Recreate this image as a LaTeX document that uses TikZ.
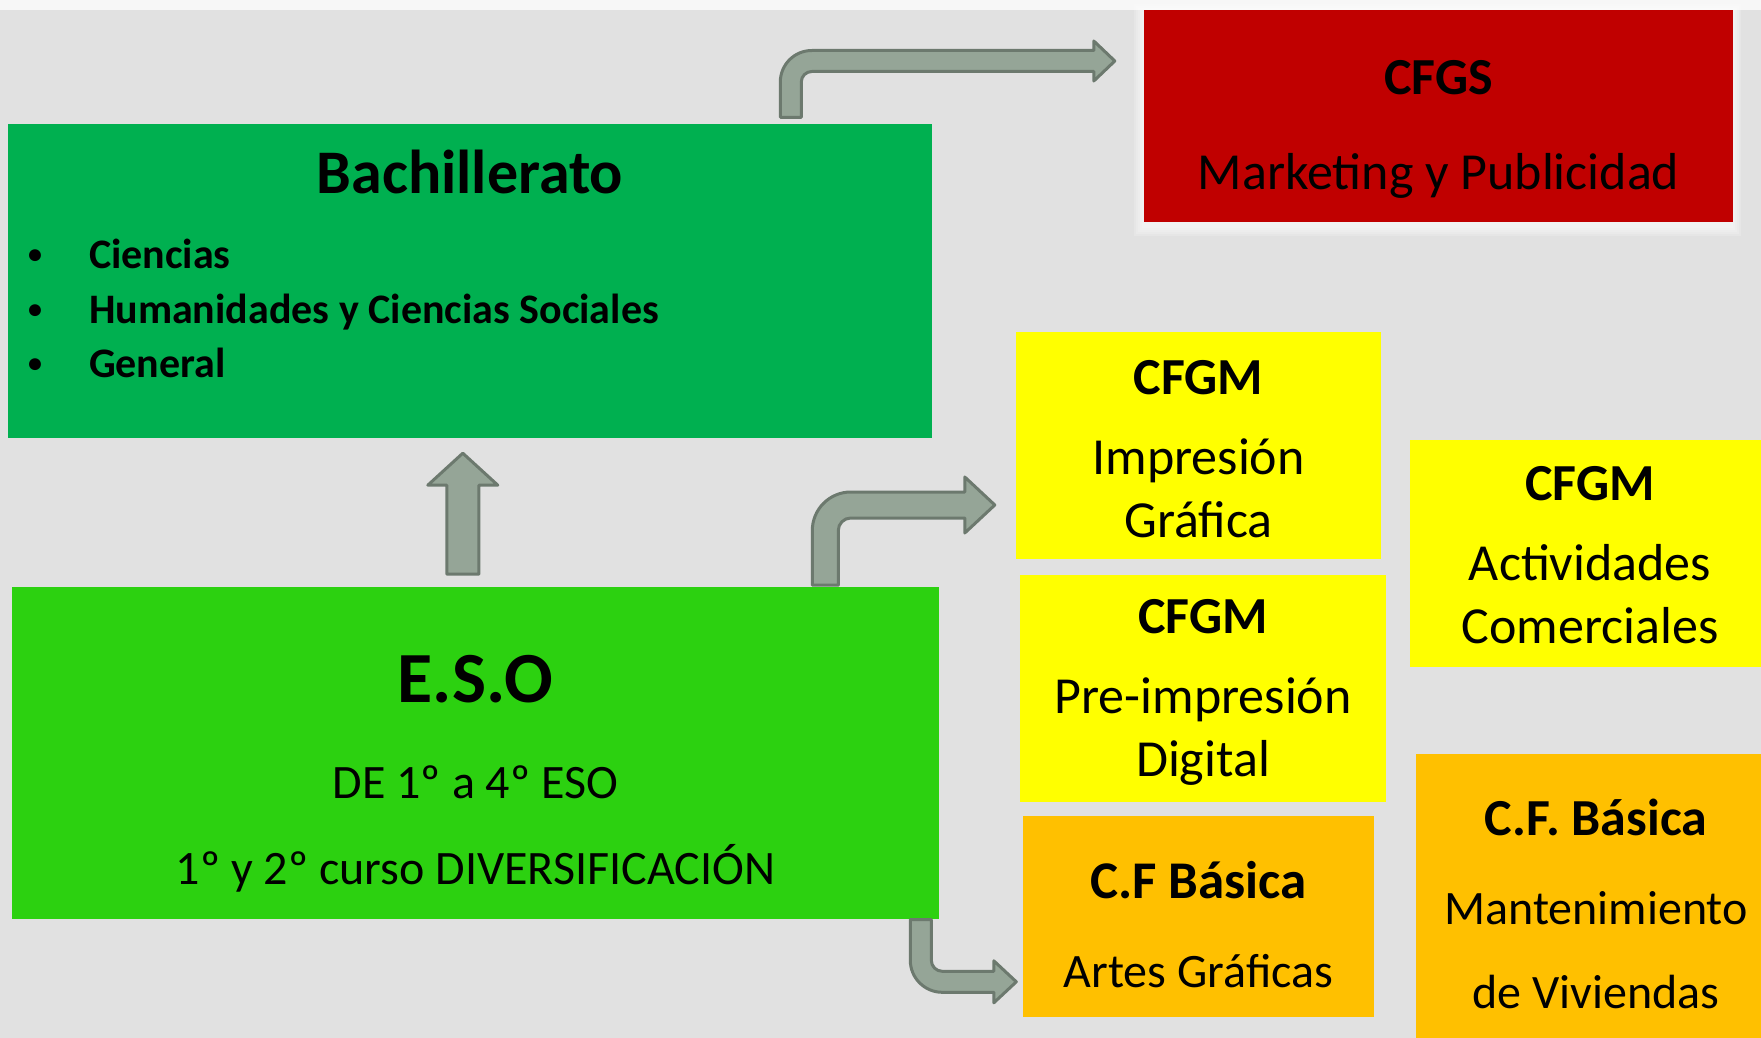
\documentclass[tikz,border=0pt]{standalone}
\usepackage{fontspec}
\setmainfont{Carlito}
\usepackage{xcolor}
\usetikzlibrary{positioning, calc}

\definecolor{bgGray}{RGB}{225,225,225}
\definecolor{topStrip}{RGB}{247,247,247}
\definecolor{bachGreen}{RGB}{0,176,80}
\definecolor{esoGreen}{RGB}{44,209,16}
\definecolor{cfgsRed}{RGB}{192,0,0}
\definecolor{cfgmYellow}{RGB}{255,255,0}
\definecolor{basicaOrange}{RGB}{255,192,0}
\definecolor{arrowFill}{RGB}{149,165,151}
\definecolor{arrowLine}{RGB}{108,121,110}

\pgfdeclarelayer{backdrop}
\pgfdeclarelayer{glow}
\pgfsetlayers{backdrop,glow,main}

% small list bullet
\newcommand{\listbullet}{\llap{\makebox[0pt]{\raisebox{5pt}{\fontsize{28}{28}\selectfont •}}\hspace{54pt}}}

% straight block arrow pointing up: tail, tip, shaft half width, head half width, head length
\newcommand{\uparrowblock}[5]{%
  \filldraw[blockarrow] let \p1=#1, \p2=#2 in
    (\x1-#3,\y1) -- (\x1-#3,\y2-#5) -- (\x1-#4,\y2-#5) -- (\x1,\y2)
    -- (\x1+#4,\y2-#5) -- (\x1+#3,\y2-#5) -- (\x1+#3,\y1) -- cycle;}

% bent block arrow: tail, tip, shaft half width, head half width, head length, corner radius, 1 = up then right / -1 = down then right
\newcommand{\bentblock}[7]{%
  \filldraw[blockarrow] let \p1=#1, \p2=#2 in
    (\x1-#3,\y1) -- (\x1-#3,{\y2+(#7)*(#3-#6)})
    arc[start angle=180, end angle={180-90*(#7)}, radius=#6]
    -- (\x2-#5,{\y2+(#7)*#3}) -- (\x2-#5,{\y2+(#7)*#4}) -- (\x2,\y2)
    -- (\x2-#5,{\y2-(#7)*#4}) -- (\x2-#5,{\y2-(#7)*#3})
    -- ({\x1+#6-#3},{\y2-(#7)*#3})
    arc[start angle={180-90*(#7)}, end angle=180, radius={#6-2*#3}]
    -- (\x1+#3,\y1) -- cycle;}

\begin{document}
\begin{tikzpicture}[
    x=1pt, y=-1pt,
    panel/.style={rectangle, inner sep=0pt, align=center},
    bachbox/.style={panel, fill=bachGreen, minimum width=924pt, minimum height=314pt},
    esobox/.style={panel, fill=esoGreen, minimum width=927pt, minimum height=332pt},
    cfgsbox/.style={panel, fill=cfgsRed, minimum width=589pt, minimum height=212pt},
    cfgmbox/.style={panel, fill=cfgmYellow, minimum height=227pt, font=\fontsize{52}{63}\selectfont},
    basicabox/.style={panel, fill=basicaOrange, font=\fontsize{48}{89}\selectfont},
    itemtext/.style={font=\fontsize{42}{50}\selectfont\bfseries, inner sep=0pt, anchor=base west},
    blockarrow/.style={draw=arrowLine, fill=arrowFill, line width=3pt, line join=round},
  ]

  % slide background
  \useasboundingbox (0,0) rectangle (1761,1038);
  \begin{pgfonlayer}{backdrop}
    \fill[bgGray] (0,0) rectangle (1761,1038);
    \fill[topStrip] (0,0) rectangle (1761,10);
  \end{pgfonlayer}

  % left column
  \node[bachbox] (bach) at (470,281) {};
  \node[esobox, below=149pt of bach, xshift=5.5pt] (eso) {};

  \node[font=\fontsize{62}{74}\selectfont\bfseries, anchor=base] (bachtitle)
    at ($(bach.north)+(0,-70pt)$) {Bachillerato};
  \node[itemtext] (itemA) at ($(bach.north west)+(81pt,-145pt)$) {\listbullet Ciencias};
  \node[itemtext] (itemB) at ($(bach.north west)+(81pt,-199.5pt)$) {\listbullet Humanidades y Ciencias Sociales};
  \node[itemtext] (itemC) at ($(bach.north west)+(81pt,-254pt)$) {\listbullet General};

  \node[panel, anchor=north, font=\fontsize{48}{86}\selectfont] (esotext)
    at ($(eso.north)+(0,-67.5pt)$)
    {{\fontsize{72}{86}\selectfont\bfseries E.S.O}\\[10pt] DE 1º a 4º ESO\\ 1º y 2º curso DIVERSIFICACIÓN};

  % CFGS with its soft white shadow
  \node[cfgsbox] (cfgs) at (1438.5,116) {};
  \begin{pgfonlayer}{glow}
    \foreach \g in {2,4,...,10}
      \fill[white, opacity=0.18] ($(cfgs.north west)+(-\g pt,\g pt-4pt)$) rectangle ($(cfgs.south east)+(\g pt-2pt,-\g pt-4pt)$);
  \end{pgfonlayer}
  \node[panel, anchor=north, font=\fontsize{52}{95}\selectfont] (cfgstext)
    at ($(cfgs.north)+(0,-50pt)$) {{\bfseries CFGS}\\ Marketing y Publicidad};

  % middle column
  \node[cfgmbox, minimum width=365pt] (cfgm1) at (1198.5,445.5)
    {\rule{0pt}{42pt}{\bfseries CFGM}\\[17pt] Impresión\\ Gráfica};
  \node[cfgmbox, minimum width=366pt, below=16pt of cfgm1, xshift=4.5pt] (cfgm2)
    {\rule{0pt}{42pt}{\bfseries CFGM}\\[17pt] Pre-impresión\\ Digital};
  \node[basicabox, minimum width=351pt, minimum height=201pt, below=13pt of cfgm2, xshift=-4.5pt] (cfb1)
    {\rule{0pt}{54pt}{\fontsize{53}{89}\selectfont\bfseries C.F Básica}\\ Artes Gráficas};

  % right column
  \node[cfgmbox, minimum width=360pt] (cfgm3) at (1590,553.5)
    {\rule{0pt}{38pt}{\bfseries CFGM}\\[17pt] Actividades\\ Comerciales};
  \node[basicabox, minimum width=360pt, minimum height=299pt, below=87pt of cfgm3, xshift=6pt,
        font=\fontsize{48}{84}\selectfont] (cfb2)
    {{\fontsize{52}{84}\selectfont\bfseries C.F. Básica}\\[5pt] Mantenimiento\\ de Viviendas};

  % block arrows
  \uparrowblock{($(eso.north west)+(451pt,13pt)$)}{($(bach.south west)+(455pt,-15pt)$)}{16pt}{35pt}{32pt}
  \bentblock{($(bach.north west)+(783pt,6.5pt)$)}{($(cfgs.west)+(-29pt,55pt)$)}{10.5pt}{20pt}{21pt}{31.5pt}{1}
  \bentblock{($(eso.north west)+(813.5pt,2pt)$)}{($(cfgm1.west)+(-21pt,-59.5pt)$)}{13pt}{28pt}{30pt}{38.5pt}{1}
  \bentblock{($(eso.south west)+(909pt,0pt)$)}{($(cfb1.west)+(-6.5pt,-65.5pt)$)}{10.5pt}{21pt}{22.5pt}{32pt}{-1}

\end{tikzpicture}
\end{document}
